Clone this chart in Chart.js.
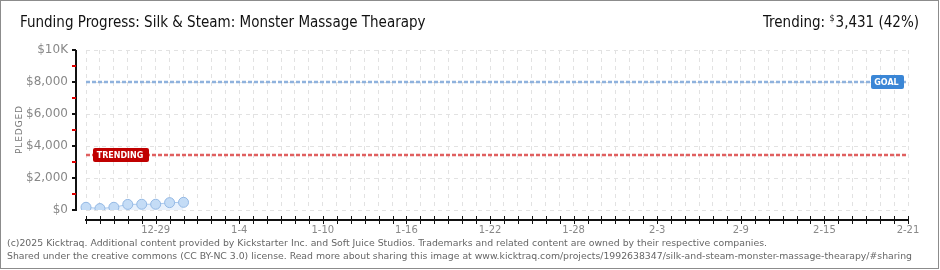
<!DOCTYPE html>
<html>
<head>
<meta charset="utf-8">
<script src="https://cdn.jsdelivr.net/npm/chart.js@4"></script>
<style>
    html, body { margin: 0; padding: 0; background: #fff; }
    #frame {
        position: relative;
        width: 937px;
        height: 267px;
        border: 1px solid #8c8c8c;
        overflow: hidden;
    }
    #chart { position: absolute; left: -1px; top: -1px; }
    #title {
        position: absolute; left: 19px; top: 12px;
        font-family: "DejaVu Sans Condensed", "DejaVu Sans", sans-serif;
        font-weight: 300;
        font-size: 15px; color: #111; white-space: nowrap;
    }
    #trending {
        position: absolute; right: 19px; top: 12px;
        font-family: "DejaVu Sans Condensed", "DejaVu Sans", sans-serif;
        font-size: 15px; color: #111; white-space: nowrap;
    }
    #trending sup { font-size: 9px; vertical-align: 6px; margin-right: 1px; }
    .foot {
        position: absolute; left: 6px;
        font-family: "DejaVu Sans Condensed", "DejaVu Sans", sans-serif;
        font-size: 9.5px; color: #666; white-space: nowrap;
        transform-origin: 0 0;
    }
</style>
</head>
<body>
<div id="frame">
    <canvas id="chart" width="940" height="270"></canvas>
    <div id="title">Funding Progress: Silk &amp; Steam: Monster Massage Thearapy</div>
    <div id="trending">Trending: <sup>$</sup>3,431 (42%)</div>
    <div class="foot" id="foot1" style="top:236px">(c)2025 Kicktraq. Additional content provided by Kickstarter Inc. and Soft Juice Studios. Trademarks and related content are owned by their respective companies.</div>
    <div class="foot" id="foot2" style="top:249px">Shared under the creative commons (CC BY-NC 3.0) license. Read more about sharing this image at www.kicktraq.com/projects/1992638347/silk-and-steam-monster-massage-thearapy/#sharing</div>
</div>
<script>
// Données du graphique
const startDate = new Date(2024, 11, 24);
const dayCount = 60;
const pledgeDates = ['12-24', '12-25', '12-26', '12-27', '12-28', '12-29', '12-30', '12-31'];
const pledged = [170, 90, 170, 350, 360, 360, 460, 480];
const goal = 8000;
const trending = 3431;
const xTickLabels = ['12-29', '1-4', '1-10', '1-16', '1-22', '1-28', '2-3', '2-9', '2-15', '2-21'];
const yTickValues = [0, 2000, 4000, 6000, 8000, 10000];

// Une catégorie par jour de la campagne
const days = [];
for (let i = 0; i < dayCount; i++) {
    const d = new Date(startDate);
    d.setDate(d.getDate() + i);
    days.push((d.getMonth() + 1) + '-' + d.getDate());
}

function fmtDollar(v) {
    if (v === 10000) return '$10K';
    return '$' + v.toLocaleString('en-US');
}

// Axes dessinés à la main (décalés du cadre comme sur l'original)
const axesPlugin = {
    id: 'kicktraqAxes',
    afterDraw(chart) {
        const ctx = chart.ctx;
        const area = chart.chartArea;
        const x = chart.scales.x;
        const y = chart.scales.y;
        ctx.save();
        // axe x
        const ax = area.bottom + 10;
        ctx.strokeStyle = '#111';
        ctx.lineWidth = 2;
        ctx.beginPath();
        ctx.moveTo(x.getPixelForValue(0) - 1, ax);
        ctx.lineTo(x.getPixelForValue(dayCount - 1) + 1, ax);
        ctx.stroke();
        ctx.lineWidth = 1;
        for (let i = 0; i < dayCount; i++) {
            const px = Math.round(x.getPixelForValue(i)) + 0.5;
            ctx.beginPath();
            ctx.moveTo(px, ax - 4);
            ctx.lineTo(px, ax + 4);
            ctx.stroke();
        }
        // axe y
        const ay = area.left - 10;
        ctx.lineWidth = 2;
        ctx.beginPath();
        ctx.moveTo(ay, y.getPixelForValue(10000));
        ctx.lineTo(ay, y.getPixelForValue(0) + 1);
        ctx.stroke();
        for (let v = 0; v <= 10000; v += 1000) {
            const py = Math.round(y.getPixelForValue(v));
            ctx.strokeStyle = (v % 2000 === 0) ? '#111' : '#e00000';
            ctx.beginPath();
            ctx.moveTo(ay - 4, py);
            ctx.lineTo(ay, py);
            ctx.stroke();
        }
        // titre vertical
        ctx.fillStyle = '#777';
        ctx.font = '9px "DejaVu Sans"';
        ctx.translate(20, (area.top + area.bottom) / 2);
        ctx.rotate(-Math.PI / 2);
        ctx.textAlign = 'center';
        ctx.textBaseline = 'middle';
        ctx.fillText('P L E D G E D'.replace(/ /g, '\u200a'), 0, 0);
        ctx.restore();
    }
};

// Étiquettes GOAL / TRENDING
const badgePlugin = {
    id: 'badges',
    afterDatasetsDraw(chart) {
        const ctx = chart.ctx;
        const x = chart.scales.x;
        const y = chart.scales.y;
        function badge(text, left, value, color, w) {
            const cy = Math.round(y.getPixelForValue(value));
            ctx.fillStyle = color;
            ctx.beginPath();
            ctx.roundRect(left, cy - 7, w, 14, 2);
            ctx.fill();
            ctx.fillStyle = '#fff';
            ctx.font = 'bold 8px "DejaVu Sans"';
            ctx.textAlign = 'center';
            ctx.textBaseline = 'middle';
            ctx.fillText(text, left + w / 2 - 1, cy + 1);
        }
        ctx.save();
        badge('GOAL', x.getPixelForValue(dayCount - 1) - 37, goal, '#3a86d6', 33);
        badge('TRENDING', x.getPixelForValue(0) + 7, trending, '#c00000', 56);
        ctx.restore();
    }
};

Chart.defaults.font.family = '"DejaVu Sans", sans-serif';

new Chart(document.getElementById('chart').getContext('2d'), {
    type: 'line',
    data: {
        labels: days,
        datasets: [
            {
                label: 'Pledged',
                data: pledgeDates.map((d, i) => pledged[i]),
                borderColor: '#a9c9ee',
                borderWidth: 1,
                backgroundColor: 'rgba(205,224,248,0.45)',
                fill: 'origin',
                pointRadius: 5,
                pointBackgroundColor: '#c4dcf6',
                pointBorderColor: '#93b8e4',
                pointBorderWidth: 1,
                tension: 0,
                order: 0
            },
            {
                label: 'Goal',
                data: days.map(() => goal),
                borderColor: '#8fb2dd',
                borderWidth: 2.5,
                borderDash: [4, 2],
                pointRadius: 0,
                fill: false,
                order: 1
            },
            {
                label: 'Trending',
                data: days.map(() => trending),
                borderColor: '#e06060',
                borderWidth: 2.5,
                borderDash: [4, 2],
                pointRadius: 0,
                fill: false,
                order: 1
            }
        ]
    },
    options: {
        responsive: false,
        animation: false,
        layout: { padding: { top: 50, right: 32, left: 0, bottom: 0 } },
        plugins: { legend: { display: false }, tooltip: { enabled: false } },
        scales: {
            x: {
                type: 'category',
                offset: false,
                afterFit(scale) { scale.height = 60; },
                grid: { color: '#e2e2e2', drawTicks: false },
                border: { display: false, dash: [4, 4] },
                ticks: {
                    autoSkip: false,
                    maxRotation: 0,
                    padding: 14,
                    color: '#888',
                    font: { size: 10 },
                    callback(value) {
                        const lbl = days[value];
                        return xTickLabels.includes(lbl) ? lbl : '';
                    }
                }
            },
            y: {
                min: 0,
                max: 10000,
                afterFit(scale) { scale.width = 86; },
                grid: { color: '#e2e2e2', drawTicks: false },
                border: { display: false, dash: [4, 4] },
                ticks: {
                    stepSize: 1000,
                    padding: 18,
                    color: '#888',
                    font: { size: 12 },
                    callback(value) {
                        return yTickValues.includes(value) ? fmtDollar(value) : '';
                    }
                }
            }
        }
    },
    plugins: [axesPlugin, badgePlugin]
});

// Ajuste la largeur des lignes de pied de page
function fitWidth(id, target) {
    const el = document.getElementById(id);
    const w = el.getBoundingClientRect().width;
    el.style.transform = 'scaleX(' + (target / w) + ')';
}
fitWidth('foot1', 760);
fitWidth('foot2', 905);
</script>
</body>
</html>
